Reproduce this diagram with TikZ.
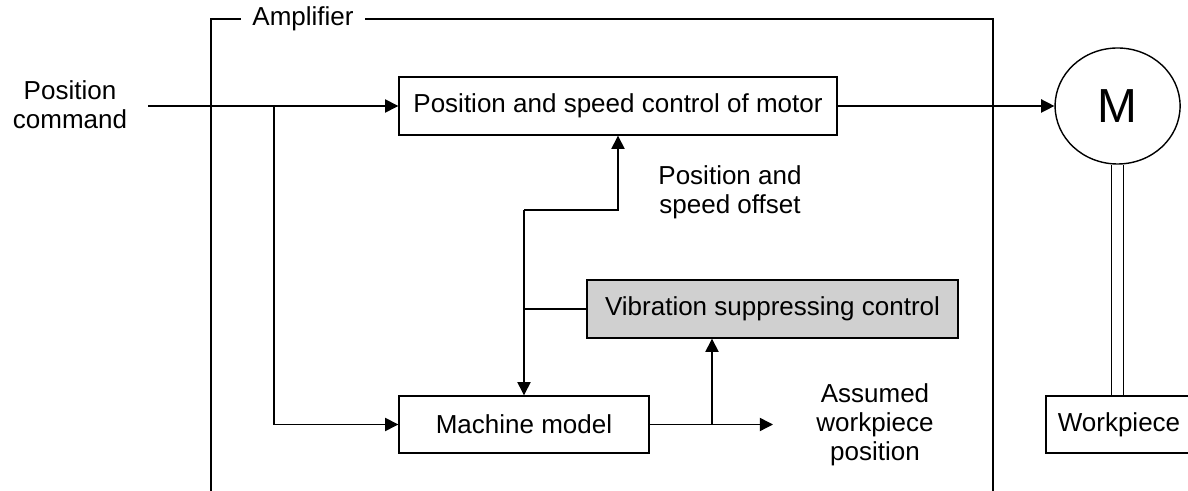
\documentclass[tikz,border=0pt]{standalone}
\usepackage{fontspec}
\setmainfont{Liberation Sans}
\usetikzlibrary{arrows.meta, shapes.geometric}

\definecolor{vscgray}{RGB}{208,208,208}

\tikzset{
  wire/.style={line width=1pt},
  blk/.style={draw, line width=1pt, minimum height=1.45cm, inner sep=0pt},
  lbl/.style={align=center}
}

\begin{document}
\begin{tikzpicture}[>={Triangle[length=3.3mm,width=3.3mm]}, font=\fontsize{18.5}{20.5}\selectfont]
    \useasboundingbox (0,0) rectangle (29.7,12.275);
    \clip (0,0) rectangle (29.7,12.275);

    % amplifier frame, open at the bottom
    \node[inner xsep=0.28cm] (amp) at (7.575,11.8) {Amplifier};
    \draw[wire] (amp.west) -- (5.275,11.8) -- (5.275,0);
    \draw[wire] (amp.east) -- (24.825,11.8) -- (24.825,0);

    \node[blk, minimum width=10.95cm] (ctrl) at (15.45,9.625) {Position and speed control of motor};
    \node[blk, fill=vscgray, minimum width=9.275cm] (vsc) at (19.3125,4.55) {Vibration suppressing control};
    \node[blk, minimum width=6.25cm, minimum height=1.425cm] (model) at (13.1,1.6625) {Machine model};
    \node[blk, minimum width=3.65cm, minimum height=1.425cm] (wp) at (27.975,1.6625) {Workpiece};
    \node[draw, ellipse, line width=1pt, inner sep=0pt, minimum width=3.125cm, minimum height=2.9cm,
          font=\fontsize{34}{34}\selectfont] (motor) at (27.94,9.625) {M};

    \node[lbl] (cmd) at (1.75,9.65) {Position\\command};
    \node[lbl] (offs) at (18.25,7.475) {Position and\\speed offset};
    \node[lbl] (est) at (21.875,1.6625) {Assumed\\workpiece\\position};

    \coordinate (cin) at (3.7,9.625);
    \coordinate (split) at (6.85,9.625);
    \coordinate (fb) at (13.1,7.025);
    \coordinate (tap) at (17.8,1.6625);
    \coordinate (eout) at (19.325,1.6625);

    \draw[wire,->] (cin) -- (ctrl.west);
    \draw[wire,->] (split) |- (model.west);
    \draw[wire,->] (ctrl.east) -- (motor.west);
    \draw[wire,->] (fb) -| (ctrl.south);
    \draw[wire,->] (fb) -- (model.north);
    \draw[wire] (vsc.west) -- (vsc.west -| fb);
    \draw[wire,->] (model.east) -- (eout);
    \draw[wire,->] (tap) -- (tap |- vsc.south);

    % shaft from motor down to the workpiece
    \draw[wire] ([xshift=-0.15cm]motor.south) -- ([xshift=-0.15cm]motor.south |- wp.north);
    \draw[wire] ([xshift=0.15cm]motor.south) -- ([xshift=0.15cm]motor.south |- wp.north);
\end{tikzpicture}
\end{document}
